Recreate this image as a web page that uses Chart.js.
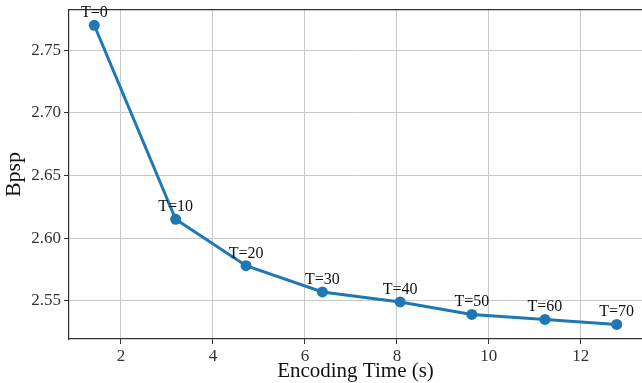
<!DOCTYPE html>
<html lang="en">
<head>
  <meta charset="UTF-8">
  <title>Bpsp vs Encoding Time</title>
  <script src="https://cdn.jsdelivr.net/npm/chart.js"></script>
  <style>
    html, body { margin: 0; padding: 0; background: #fff; }
    #wrap { width: 642px; height: 383px; }
  </style>
</head>
<body>
  <div id="wrap"><canvas id="myChart" width="642" height="383"></canvas></div>

  <script>
    // data
    const encTime = [1.42, 3.19, 4.72, 6.38, 8.07, 9.63, 11.22, 12.78];
    const bpsp = [2.770, 2.615, 2.578, 2.557, 2.549, 2.539, 2.535, 2.531];
    const pointLabels = ['T=0', 'T=10', 'T=20', 'T=30', 'T=40', 'T=50', 'T=60', 'T=70'];
    const xTicks = [2, 4, 6, 8, 10, 12];
    const yTicks = [2.55, 2.60, 2.65, 2.70, 2.75];

    Chart.defaults.font.family = '"Liberation Serif", "DejaVu Serif", serif';
    Chart.defaults.color = '#222';

    // the point radius would otherwise add a gap on the right side
    const LineCtl = Chart.registry.getController('line');
    LineCtl.prototype.getMaxOverflow = function () { return 0; };

    // T=.. text above every point
    const labelPlugin = {
      id: 'pointLabels',
      afterDatasetsDraw(chart) {
        const ctx = chart.ctx;
        const meta = chart.getDatasetMeta(0);
        ctx.save();
        ctx.font = '16px "Liberation Serif", serif';
        ctx.fillStyle = '#111';
        ctx.textAlign = 'center';
        ctx.textBaseline = 'alphabetic';
        meta.data.forEach((pt, i) => {
          ctx.fillText(pointLabels[i], pt.x, pt.y - 8);
        });
        ctx.restore();
      }
    };

    // no extra label padding, the plot runs to the canvas edge
    const noPad = s => { s.paddingLeft = 0; s.paddingRight = 0; s.paddingTop = 0; s.paddingBottom = 0; };

    const ctx = document.getElementById('myChart').getContext('2d');
    const myChart = new Chart(ctx, {
      type: 'line',
      data: {
        datasets: [{
          data: encTime.map((x, i) => ({ x: x, y: bpsp[i] })),
          borderColor: '#1f77b4',
          backgroundColor: '#1f77b4',
          borderWidth: 3,
          pointRadius: 5.5,
          pointBorderWidth: 0,
          fill: false,
          clip: false,
          tension: 0
        }]
      },
      options: {
        responsive: false,
        animation: false,
        layout: { padding: { top: 10, left: 0, right: 0, bottom: 0 } },
        plugins: {
          legend: { display: false },
          tooltip: { enabled: false }
        },
        scales: {
          x: {
            type: 'linear',
            position: 'bottom',
            min: 0.87,
            max: 13.33,
            afterBuildTicks: s => { s.ticks = xTicks.map(v => ({ value: v })); },
            afterFit: s => { s.height = 44; noPad(s); },
            ticks: { font: { size: 17 }, padding: 2, maxRotation: 0, color: '#333' },
            grid: { color: '#c8c8c8', lineWidth: 1, tickLength: 5, tickColor: '#333' },
            border: { color: '#333', width: 1.2 },
            title: {
              display: true,
              text: 'Encoding Time (s)',
              font: { size: 21 },
              color: '#111',
              padding: { top: 0, bottom: -1 }
            }
          },
          x2: {
            type: 'linear',
            position: 'top',
            min: 0.87,
            max: 13.33,
            afterFit: s => { s.height = 0; noPad(s); },
            ticks: { display: false },
            grid: { display: false, drawTicks: false },
            border: { color: '#333', width: 1.2 }
          },
          y: {
            min: 2.5194,
            max: 2.7822,
            afterBuildTicks: s => { s.ticks = yTicks.map(v => ({ value: v })); },
            afterFit: s => { s.width = 69; noPad(s); },
            ticks: {
              font: { size: 17 },
              padding: 3,
              color: '#333',
              callback: v => Number(v).toFixed(2)
            },
            grid: { color: '#c8c8c8', lineWidth: 1, tickLength: 5, tickColor: '#333' },
            border: { color: '#333', width: 1.2 },
            title: {
              display: true,
              text: 'Bpsp',
              font: { size: 22 },
              color: '#111',
              padding: { top: 1, bottom: 0 }
            }
          }
        }
      },
      plugins: [labelPlugin]
    });
  </script>
</body>
</html>
